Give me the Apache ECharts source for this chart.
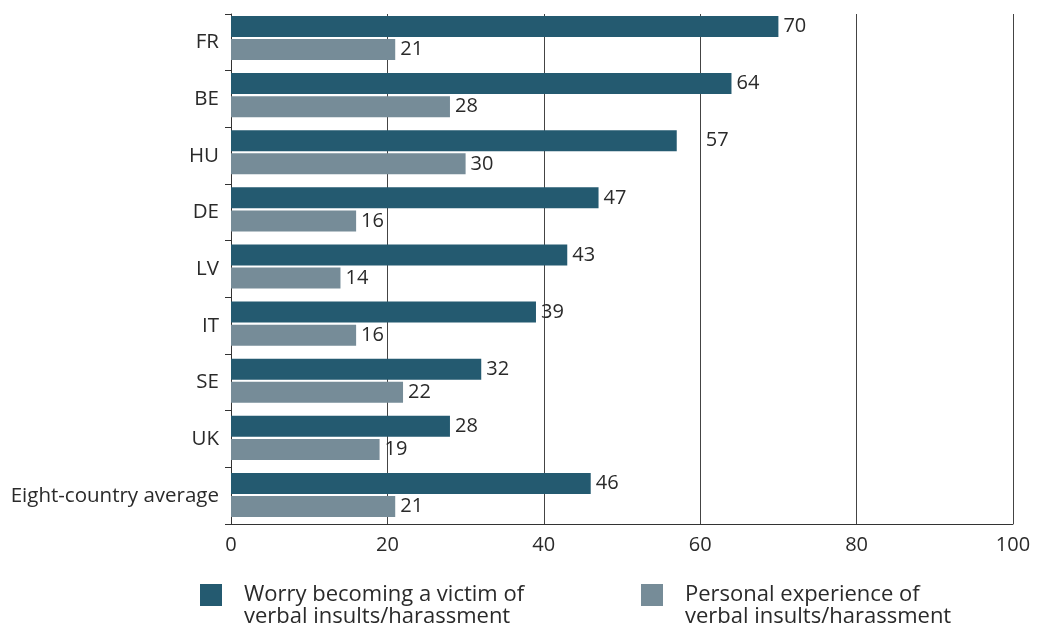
<!DOCTYPE html>
<html><head><meta charset="utf-8">
<script src="https://cdn.jsdelivr.net/npm/echarts@6/dist/echarts.min.js"></script>
<style>html,body{margin:0;padding:0;background:#fff}#c{width:1038px;height:629px}</style>
</head><body><div id="c"></div>
<script>
var categories = ['FR','BE','HU','DE','LV','IT','SE','UK','Eight-country average'];
var worry = [70,64,57,47,43,39,32,28,46];
var experience = [21,28,30,16,14,16,22,19,21];
var seriesNames = ['Worry becoming a victim of\nverbal insults/harassment','Personal experience of\nverbal insults/harassment'];

var FONT = '"Open Sans", "Noto Sans", sans-serif';
var TXT = '#2a2a2a';
var chart = echarts.init(document.getElementById('c'));
function legendText(){
  return {fontFamily: FONT, fontSize: 22, color: TXT, lineHeight: 22, padding: [0,0,0,17]};
}
function legendFmt(name){ return '\n' + name; }
var worryData = worry.map(function(v,i){
  var d = {value: v};
  if (categories[i] === 'HU') d.label = {distance: 29};
  return d;
});
var valLabel = {show: true, position: 'right', distance: 5, fontFamily: FONT, fontSize: 20, color: TXT};
chart.setOption({
  animation: false,
  grid: [
    {left: 231, right: 25, top: 14, bottom: 105},
    {left: 231, right: 25, top: 9.5, bottom: 105.5}
  ],
  xAxis: [
    {type: 'value', gridIndex: 0, min: 0, max: 100, interval: 20,
     axisLine: {show: true, lineStyle: {color: '#333'}},
     axisTick: {show: false},
     splitLine: {show: true, lineStyle: {color: '#444', width: 1}},
     axisLabel: {fontFamily: FONT, fontSize: 20, color: TXT, margin: 11}},
    {type: 'value', gridIndex: 1, min: 0, max: 100, show: false}
  ],
  yAxis: [
    {type: 'category', gridIndex: 0, data: categories, inverse: true,
     axisLine: {show: true, lineStyle: {color: '#333'}},
     axisTick: {show: true, length: 6, lineStyle: {color: '#333'}},
     axisLabel: {fontFamily: FONT, fontSize: 20.5, color: TXT, margin: 12}},
    {type: 'category', gridIndex: 1, data: categories, inverse: true, show: false}
  ],
  legend: [
    {left: 200, top: 562, padding: 0, itemWidth: 22, itemHeight: 22, itemGap: 0, icon: 'rect', selectedMode: false,
     formatter: legendFmt, data: [seriesNames[0]], textStyle: legendText()},
    {left: 641, top: 562, padding: 0, itemWidth: 22, itemHeight: 22, itemGap: 0, icon: 'rect', selectedMode: false,
     formatter: legendFmt, data: [seriesNames[1]], textStyle: legendText()}
  ],
  series: [
    {name: seriesNames[0], type: 'bar', xAxisIndex: 1, yAxisIndex: 1, data: worryData,
     barWidth: 21, barGap: '10%', itemStyle: {color: '#245a70'}, label: valLabel},
    {name: seriesNames[1], type: 'bar', xAxisIndex: 1, yAxisIndex: 1, data: experience,
     barWidth: 21, barGap: '10%', itemStyle: {color: '#768c98'}, label: valLabel}
  ]
});
</script></body></html>
